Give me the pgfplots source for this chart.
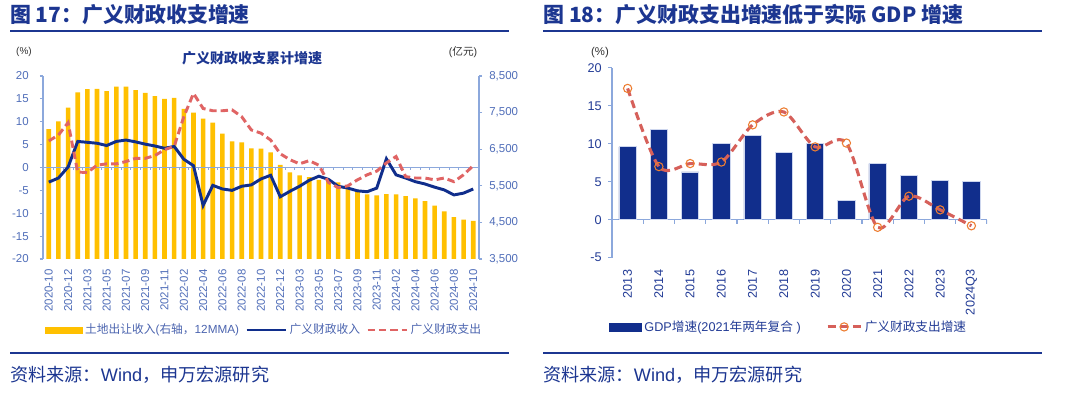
\documentclass[border=0pt]{standalone}
\usepackage{fontspec}
\setmainfont{Liberation Sans}
\newfontfamily\cjk{Noto Sans CJK SC}
\usepackage{pgfplots}
\pgfplotsset{compat=1.18}
\usepackage{pgfplotstable}

\definecolor{gold}{RGB}{255,192,0}
\definecolor{navyline}{RGB}{16,46,140}
\definecolor{redd}{RGB}{224,100,100}
\definecolor{axisblue}{RGB}{140,168,220}
\definecolor{ticklab}{RGB}{80,110,185}
\definecolor{ticklabr}{RGB}{35,60,150}
\definecolor{titleblue}{RGB}{28,54,145}
\definecolor{barnavy}{RGB}{17,46,140}
\definecolor{barborder}{RGB}{205,214,238}
\definecolor{orangem}{RGB}{237,125,49}
\definecolor{redr}{RGB}{214,96,90}
\definecolor{darktxt}{RGB}{50,50,50}
\definecolor{legl}{RGB}{75,100,175}

\pgfplotstableread{
i land rev exp
0 7050 -3.2 5.8
1 7263 -2.3 7.1
2 7638 0.1 9.8
3 8050 5.7 -1.0
4 8138 5.5 -1.1
5 8150 5.3 0.5
6 8088 4.8 0.8
7 8213 5.7 0.8
8 8213 6.0 1.3
9 8113 5.6 2.0
10 8038 5.1 2.0
11 7950 4.7 2.6
12 7875 4.2 3.9
13 7900 4.6 4.6
14 7600 1.8 11.1
15 7500 0.4 16.2
16 7338 -8.3 12.9
17 7225 -3.9 12.4
18 6925 -4.7 12.4
19 6713 -5.0 12.6
20 6688 -4.1 11.1
21 6525 -3.8 8.2
22 6513 -2.5 7.5
23 6413 -1.7 6.0
24 6075 -6.4 3.0
25 5864 -5.2 1.7
26 5782 -4.1 0.8
27 5736 -2.8 1.5
28 5664 -1.9 0.5
29 5636 -2.6 -3.3
30 5591 -4.1 -4.4
31 5482 -4.5 -4.0
32 5345 -5.1 -2.7
33 5264 -5.3 -1.6
34 5236 -4.5 -0.8
35 5273 1.9 1.0
36 5264 -1.6 2.4
37 5218 -2.3 -2.0
38 5155 -3.1 -2.3
39 5082 -3.6 -2.3
40 4955 -4.3 -2.7
41 4800 -4.9 -2.3
42 4645 -6.0 -3.1
43 4573 -5.6 -1.6
44 4545 -4.7 0.4
}\leftdata

\pgfplotstableread{
i gdp exp
0 9.6 17.3
1 11.9 7.0
2 6.3 7.4
3 10.0 7.6
4 11.1 12.5
5 8.9 14.2
6 10.0 9.6
7 2.5 10.1
8 7.4 -1.0
9 5.8 3.1
10 5.2 1.3
11 5.0 -0.8
}\rightdata

\pgfplotsset{
  barlegL/.style={legend image code/.code={\fill[gold] (0pt,-2.25pt) rectangle (27.75pt,2.25pt);}},
  lineleg/.style={legend image code/.code={\draw[##1] (0pt,0pt) -- (29.25pt,0pt);}},
  barlegR/.style={legend image code/.code={\fill[barnavy] (0pt,-3pt) rectangle (24pt,3pt);}},
  marklegR/.style={legend image code/.code={\draw[mark repeat=2,mark phase=2,##1] plot coordinates {(0pt,0pt) (12.4pt,0pt) (24.75pt,0pt)};}},
  baseax/.style={
    scale only axis, enlargelimits=false,
    axis line style={axisblue, line width=0.8pt},
    major tick style={axisblue, line width=0.8pt},
    tick align=outside, major tick length=2.25pt,
    /pgf/number format/assume math mode=true,
    /pgf/number format/1000 sep={,},
  },
}

\begin{document}
\begin{tikzpicture}
\fill[white] (0,0) rectangle (810pt,299.25pt);

% ---------- titles and rules ----------
\node[anchor=west, inner sep=0pt, text=titleblue, font=\cjk\bfseries\fontsize{15.7}{17}\selectfont] at (7.5pt,288pt) {图 17：广义财政收支增速};
\node[anchor=west, inner sep=0pt, text=titleblue, font=\cjk\bfseries\fontsize{15.7}{17}\selectfont] at (407.25pt,288pt) {图 18：广义财政支出增速低于实际 GDP 增速};
\draw[titleblue, line width=1.4pt] (7.5pt,276pt) -- (381.75pt,276pt);
\draw[titleblue, line width=1.4pt] (407.25pt,276pt) -- (781.5pt,276pt);
\draw[titleblue, line width=1.2pt] (7.5pt,34.5pt) -- (381.75pt,34.5pt);
\draw[titleblue, line width=1.2pt] (407.25pt,34.5pt) -- (781.5pt,34.5pt);
\node[anchor=west, inner sep=0pt, text=titleblue, font=\fontsize{13.6}{15}\selectfont] at (7.5pt,18pt) {{\cjk 资料来源：}Wind{\cjk ，申万宏源研究}};
\node[anchor=west, inner sep=0pt, text=titleblue, font=\fontsize{13.6}{15}\selectfont] at (407.25pt,18pt) {{\cjk 资料来源：}Wind{\cjk ，申万宏源研究}};

% ---------- left chart labels ----------
\node[text=titleblue, font=\cjk\bfseries\fontsize{10.5}{12}\selectfont] at (189pt,255.75pt) {广义财政收支累计增速};
\node[text=darktxt, font=\fontsize{7.5}{9}\selectfont] at (18pt,260.25pt) {(\%)};
\node[text=darktxt, font=\fontsize{8}{9}\selectfont] at (347.25pt,260.25pt) {({\cjk 亿元})};
\node[text=darktxt, font=\fontsize{8.5}{9}\selectfont] at (450pt,259.5pt) {(\%)};

% ---------- left chart: bars on right axis ----------
\begin{axis}[baseax,
  at={(32.25pt,105pt)}, anchor=south west,
  width=327pt, height=137.25pt,
  xmin=-0.6, xmax=44.6, ymin=3500, ymax=8500,
  axis y line*=right, axis x line*=bottom,
  x axis line style={draw=none},
  xtick={0,2,...,44},
  xticklabels={2020-10,2020-12,2021-03,2021-05,2021-07,2021-09,2021-11,2022-02,2022-04,2022-06,2022-08,2022-10,2022-12,2023-03,2023-05,2023-07,2023-09,2023-11,2024-02,2024-04,2024-06,2024-08,2024-10},
  xtick style={draw=none},
  ytick={3500,4500,...,8500},
  tick label style={font=\fontsize{8.6}{10}\selectfont, text=ticklab},
  xticklabel style={rotate=90, anchor=east, inner sep=0pt},
  yticklabel style={inner sep=0pt},
  xticklabel shift=5.5pt,
  yticklabel shift=5.3pt,
]
\addplot[ybar, bar width=3.45pt, fill=gold, draw=none] table[x=i, y=land] {\leftdata};
\end{axis}

% ---------- left chart: lines on left axis ----------
\begin{axis}[baseax,
  at={(32.25pt,105pt)}, anchor=south west,
  width=327pt, height=137.25pt,
  xmin=-0.6, xmax=44.6, ymin=-20, ymax=20,
  axis y line*=left, axis x line=none,
  ytick={-20,-15,...,20},
  tick label style={font=\fontsize{8.6}{10}\selectfont, text=ticklab},
  yticklabel style={inner sep=0pt},
  yticklabel shift=8.25pt,
  legend style={at={(0.0046,-0.388)}, anchor=west, draw=none, fill=none,
    inner sep=0pt, outer sep=0pt, legend columns=-1,
    font=\fontsize{8.8}{10}\selectfont, text=legl,
    nodes={inner ysep=0pt, inner xsep=2pt},
    /tikz/every even column/.append style={column sep=2.5pt}},
]
\draw[axisblue, line width=0.8pt] (axis cs:-0.6,0) -- (axis cs:44.6,0);
\foreach \t in {0.5,1.5,...,43.5} {\edef\tmp{\noexpand\draw[axisblue, line width=0.6pt] (axis cs:\t,0) -- ++(0pt,-1.8pt);}\tmp}
\addlegendimage{barlegL}
\addlegendentry{{\cjk 土地出让收入}({\cjk 右轴，}12MMA)}
\addplot[lineleg, navyline, line width=2.2pt] table[x=i, y=rev] {\leftdata};
\addlegendentry{{\cjk 广义财政收入}}
\addplot[lineleg, redd, line width=2.2pt, dash pattern=on 5.5pt off 3pt] table[x=i, y=exp] {\leftdata};
\addlegendentry{{\cjk 广义财政支出}}
\end{axis}

% ---------- right chart ----------
\begin{axis}[baseax,
  at={(459pt,106pt)}, anchor=south west,
  width=281.25pt, height=142.3pt,
  xmin=-0.5, xmax=11.5, ymin=-5, ymax=20,
  axis y line*=left, axis x line*=bottom,
  x axis line style={draw=none},
  xtick={0,...,11},
  xticklabels={2013,2014,2015,2016,2017,2018,2019,2020,2021,2022,2023,2024Q3},
  xtick style={draw=none},
  ytick={-5,0,...,20},
  major tick length=3pt,
  tick label style={font=\fontsize{9.5}{11}\selectfont, text=ticklabr},
  xticklabel style={rotate=90, anchor=east, inner sep=0pt},
  yticklabel style={inner sep=0pt},
  xticklabel shift=6pt,
  yticklabel shift=4.5pt,
  legend style={at={(-0.008,-0.365)}, anchor=west, draw=none, fill=none,
    inner sep=0pt, outer sep=0pt, legend columns=-1,
    font=\fontsize{9.5}{11}\selectfont, text=ticklabr,
    nodes={inner ysep=0pt, inner xsep=2pt},
    /tikz/every even column/.append style={column sep=17pt}},
]
\draw[axisblue, line width=0.8pt] (axis cs:-0.5,0) -- (axis cs:11.5,0);
\foreach \t in {0.5,1.5,...,11.5} {\edef\tmp{\noexpand\draw[axisblue, line width=0.8pt] (axis cs:\t,0) -- ++(0pt,-3pt);}\tmp}
\addplot[ybar, bar width=13pt, fill=barnavy, draw=barborder, line width=0.6pt, barlegR] table[x=i, y=gdp] {\rightdata};
\addlegendentry{GDP{\cjk 增速}(2021{\cjk 年两年复合} )}
\addplot[marklegR, smooth, redr, line width=2.3pt, dash pattern=on 6pt off 3.5pt,
  mark=o, mark size=3.1pt, mark options={draw=orangem, fill=none, solid, line width=0.8pt}] table[x=i, y=exp] {\rightdata};
\addlegendentry{{\cjk 广义财政支出增速}}
\end{axis}
\end{tikzpicture}
\end{document}
